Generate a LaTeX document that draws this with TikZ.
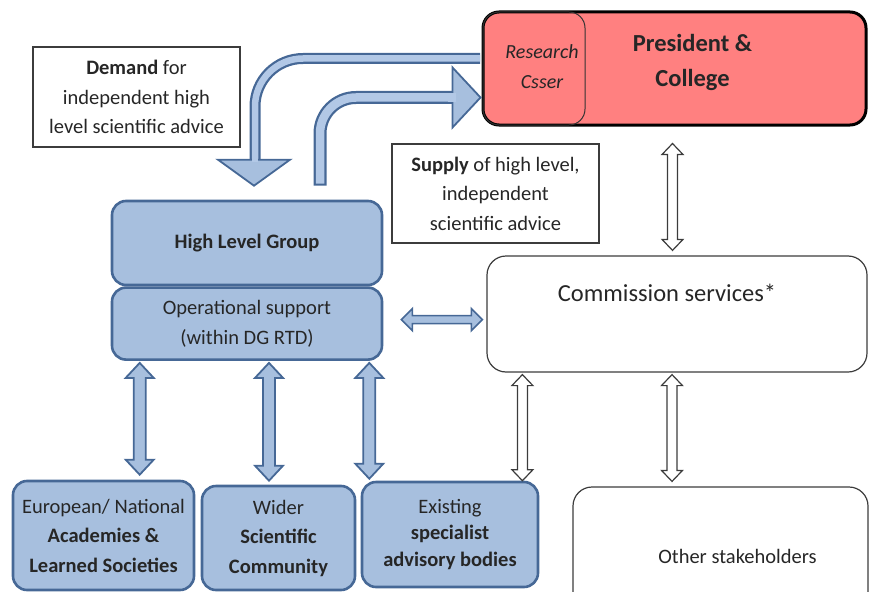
\documentclass[tikz,border=0pt]{standalone}
\usepackage{fontspec}
\setmainfont{Carlito}
\usepackage{xcolor}
\usepackage{tikz}
\usetikzlibrary{positioning,calc}
\definecolor{hlgfill}{RGB}{167,191,222}
\definecolor{hlgline}{RGB}{70,104,150}
\definecolor{bandfill}{RGB}{178,200,230}
\definecolor{prespink}{RGB}{255,128,128}
\definecolor{boxgray}{RGB}{60,60,60}
\newcommand{\basesize}{\fontsize{20.5}{29.5}\selectfont}
\newcommand{\bigsize}{\fontsize{24.5}{35}\selectfont}
\tikzset{
    bluebox/.style={
        rectangle,
        rounded corners=14pt,
        draw=hlgline,
        fill=hlgfill,
        line width=2.6pt,
        align=center
    },
    whitebox/.style={
        rectangle,
        rounded corners=19pt,
        draw=boxgray,
        line width=1.2pt
    },
    textbox/.style={
        rectangle,
        draw=boxgray,
        line width=1.2pt,
        align=center
    },
    presbox/.style={
        rectangle,
        rounded corners=16pt,
        draw=black,
        fill=prespink,
        line width=3pt
    },
    fatarrow/.style={
        draw=hlgline,
        fill=hlgfill,
        line width=1.8pt
    },
    openarrow/.style={
        draw=boxgray,
        fill=white,
        line width=1.2pt
    },
    bandout/.style={
        draw=hlgline,
        rounded corners=#1
    },
    bandin/.style={
        draw=bandfill,
        rounded corners=#1
    }
}
% vertical double arrow: [style]{top}{bottom}{shaft half}{head half}{head length}
\newcommand{\vfat}[6][]{%
  \path[#1] let \p1=#2, \p2=#3 in
    (\x1,\y1) -- (\x1+#5,\y1-#6) -- (\x1+#4,\y1-#6) -- (\x1+#4,\y2+#6) -- (\x1+#5,\y2+#6)
    -- (\x1,\y2) -- (\x1-#5,\y2+#6) -- (\x1-#4,\y2+#6) -- (\x1-#4,\y1-#6) -- (\x1-#5,\y1-#6) -- cycle;}
% horizontal double arrow: [style]{left}{right}{shaft half}{head half}{head length}
\newcommand{\hfat}[6][]{%
  \path[#1] let \p1=#2, \p2=#3 in
    (\x1,\y1) -- (\x1+#6,\y1+#5) -- (\x1+#6,\y1+#4) -- (\x2-#6,\y1+#4) -- (\x2-#6,\y1+#5)
    -- (\x2,\y1) -- (\x2-#6,\y1-#5) -- (\x2-#6,\y1-#4) -- (\x1+#6,\y1-#4) -- (\x1+#6,\y1-#5) -- cycle;}

\begin{document}
\begin{tikzpicture}[x=1pt,y=-1pt,font=\basesize,text=black!85]
  \useasboundingbox (0,0) rectangle (869,591);
  \node (demand) [textbox, minimum width=207pt, minimum height=100pt] at (136.5,97) {\textbf{Demand} for\\independent high\\level scientific advice};
  \node (supply) [textbox, minimum width=207pt, minimum height=99pt] at (495.5,193.5) {\textbf{Supply} of high level,\\independent\\scientific advice};
  \node (pres) [presbox, minimum width=383pt, minimum height=113pt,
      label={[anchor=center,font=\bigsize\bfseries,align=center,xshift=18pt,yshift=-52pt]north:President \&\\College}] at (674.5,68.5) {};
  \node (research) [rectangle, rounded corners=16pt, draw=black!80, line width=1pt,
      minimum width=102pt, minimum height=113pt,
      label={[anchor=center,font=\fontsize{20}{30}\selectfont\itshape,align=center,xshift=8pt,yshift=-55pt]north:Research\\Csser}] at (534,68.5) {};
  \node (hlg) [bluebox, minimum width=270pt, minimum height=84pt] at (247,243) {\textbf{High Level Group}};
  \node (ops) [bluebox, minimum width=270pt, minimum height=72pt, below=0pt of hlg] {Operational support\\(within DG RTD)};
  \node (comm) [whitebox, minimum width=380pt, minimum height=116pt,
      label={[anchor=center,font=\fontsize{24.5}{30}\selectfont,xshift=-10pt,yshift=-37pt]north:Commission services*}] at (677,314) {};
  \node (eur) [bluebox, minimum width=181pt, minimum height=109pt] at (103.5,535.5) {European/ National\\\textbf{Academies \&}\\\textbf{Learned Societies}};
  \node (wider) [bluebox, minimum width=153pt, minimum height=104pt] at (278.5,538) {Wider\\\textbf{Scientific}\\\textbf{Community}};
  \node (exist) [bluebox, minimum width=176pt, minimum height=105pt, font=\fontsize{20.5}{26.5}\selectfont] at (450,534.5) {Existing\\\textbf{specialist}\\\textbf{advisory bodies}};
  \node (other) [whitebox, minimum width=295pt, minimum height=124pt,
      label={[anchor=center,xshift=17pt,yshift=-70pt]north:Other stakeholders}] at (720.5,549) {};

  \draw [bandout=48pt, line width=11pt, shorten <=1.5pt] ([yshift=10pt]pres.west) -| ([xshift=8pt,yshift=39pt]hlg.north);
  \draw [bandin=48pt, line width=6.5pt, shorten <=1.5pt] ([yshift=10pt]pres.west) -| ([xshift=8pt,yshift=39pt]hlg.north);
  \draw [fatarrow] let \p1=([xshift=7pt,yshift=14pt]hlg.north) in (\x1,\y1) -- (\x1-36pt,\y1+26pt) -- (\x1+36pt,\y1+26pt) -- cycle;
  \draw [bandin=0pt, line width=6.5pt] ([xshift=8pt,yshift=46pt]hlg.north) -- ([xshift=8pt,yshift=38pt]hlg.north);

  \draw [bandout=36pt, line width=13pt] ([xshift=73pt,yshift=14pt]hlg.north) |- ([xshift=-27pt,yshift=-29pt]pres.west);
  \draw [bandin=36pt, line width=8.5pt, shorten <=2pt] ([xshift=73pt,yshift=14pt]hlg.north) |- ([xshift=-27pt,yshift=-29pt]pres.west);
  \draw [fatarrow] let \p1=([xshift=-1pt,yshift=-29pt]pres.west) in (\x1,\y1) -- (\x1-28pt,\y1+30pt) -- (\x1-28pt,\y1-30pt) -- cycle;
  \draw [bandin=0pt, line width=8.5pt] ([xshift=-34pt,yshift=-29pt]pres.west) -- ([xshift=-26pt,yshift=-29pt]pres.west);

  \vfat[fatarrow]{([xshift=29pt,yshift=-2pt]ops.south west)}{([yshift=5pt]eur.north)}{6pt}{14pt}{15pt}
  \vfat[fatarrow]{([xshift=22pt,yshift=-2pt]ops.south)}{([yshift=4pt]wider.north)}{6pt}{14pt}{15pt}
  \vfat[fatarrow]{([xshift=-14pt,yshift=-2pt]ops.south east)}{([yshift=2pt]exist.north)}{6pt}{14pt}{15pt}
  \hfat[fatarrow, line width=1.6pt]{([xshift=18pt,yshift=4pt]ops.east)}{([xshift=-4pt]comm.west)}{4pt}{11pt}{11pt}

  \vfat[openarrow]{([xshift=-2pt,yshift=-17pt]pres.south)}{([yshift=5pt]comm.north)}{5pt}{10.5pt}{11pt}
  \vfat[openarrow]{([xshift=36pt,yshift=-2pt]comm.south west)}{(exist.north)}{5pt}{10.5pt}{11pt}
  \vfat[openarrow]{([xshift=-5pt,yshift=-2pt]comm.south)}{([yshift=5pt]other.north)}{5pt}{10.5pt}{11pt}
\end{tikzpicture}
\end{document}
